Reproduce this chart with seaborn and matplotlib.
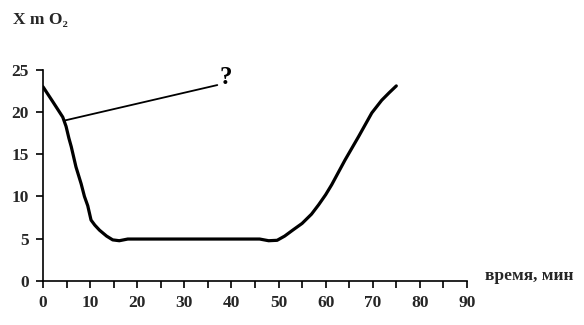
import matplotlib
matplotlib.use("Agg")
import matplotlib.pyplot as plt
import seaborn as sns
import pandas as pd
from matplotlib.ticker import MultipleLocator

time_min = [0, 2, 4.2, 4.9, 5.5, 6.0, 7.0, 8.1, 8.8, 9.5, 10.2, 11.0, 12.0, 13.5, 14.8, 16.2, 18, 25, 30, 35, 40, 46, 47.9, 49.7, 51.3, 53.0, 55.0, 57.0, 58.5, 60.0, 61.3, 64.1, 67.0, 68.5, 69.8, 71.9, 73.5, 75.0]
o2_value = [23.0, 21.3, 19.4, 18.3, 16.9, 15.9, 13.5, 11.5, 10.0, 8.9, 7.2, 6.6, 6.0, 5.3, 4.85, 4.75, 4.95, 4.95, 4.95, 4.95, 4.95, 4.95, 4.75, 4.8, 5.3, 6.0, 6.8, 7.9, 9.0, 10.2, 11.4, 14.3, 17.1, 18.6, 19.9, 21.4, 22.3, 23.1]
x_ticks = [0, 10, 20, 30, 40, 50, 60, 70, 80, 90]
y_ticks = [0, 5, 10, 15, 20, 25]
arrow_x = [4.6, 37.0]
arrow_y = [19.0, 23.2]

sns.set_theme(style="ticks")
plt.rcParams['font.family'] = ['Liberation Serif', 'DejaVu Serif']
plt.rcParams['font.weight'] = 'bold'

fig = plt.figure(figsize=(5.84, 3.25), dpi=100)
ax = fig.add_axes([0.0736, 0.136, 0.726, 0.649])

df = pd.DataFrame({"t": time_min, "o2": o2_value})
sns.lineplot(data=df, x="t", y="o2", ax=ax, color="black", linewidth=2.3, sort=False)
ax.plot(arrow_x, arrow_y, color="black", linewidth=1.3)
ax.text(38.8, 24.1, "?", fontsize=18, fontweight="bold", ha="center", va="center", color="black")

ax.set_xlim(0, 90)
ax.set_ylim(0, 25)
ax.set_xticks(x_ticks)
ax.set_yticks(y_ticks)
ax.xaxis.set_minor_locator(MultipleLocator(5))
ax.tick_params(axis="both", which="both", direction="out", color="black", width=1.2, labelsize=12.5, pad=5)
ax.tick_params(axis="x", which="both", length=5)
ax.tick_params(axis="y", length=5)
for lab in ax.get_xticklabels() + ax.get_yticklabels():
    lab.set_fontweight("bold")
ax.set_xlabel("")
ax.set_ylabel("")
for s in ["top", "right"]:
    ax.spines[s].set_visible(False)
for s in ["left", "bottom"]:
    ax.spines[s].set_color("black")
    ax.spines[s].set_linewidth(1.2)

fig.text(13/584, 1 - 20/325, "X m O₂", fontsize=12.5, fontweight="bold", ha="left", va="center")
fig.text(485/584, 1 - 276/325, "время, мин", fontsize=12.5, fontweight="bold", ha="left", va="center")

fig.savefig("out.png", dpi=100)
